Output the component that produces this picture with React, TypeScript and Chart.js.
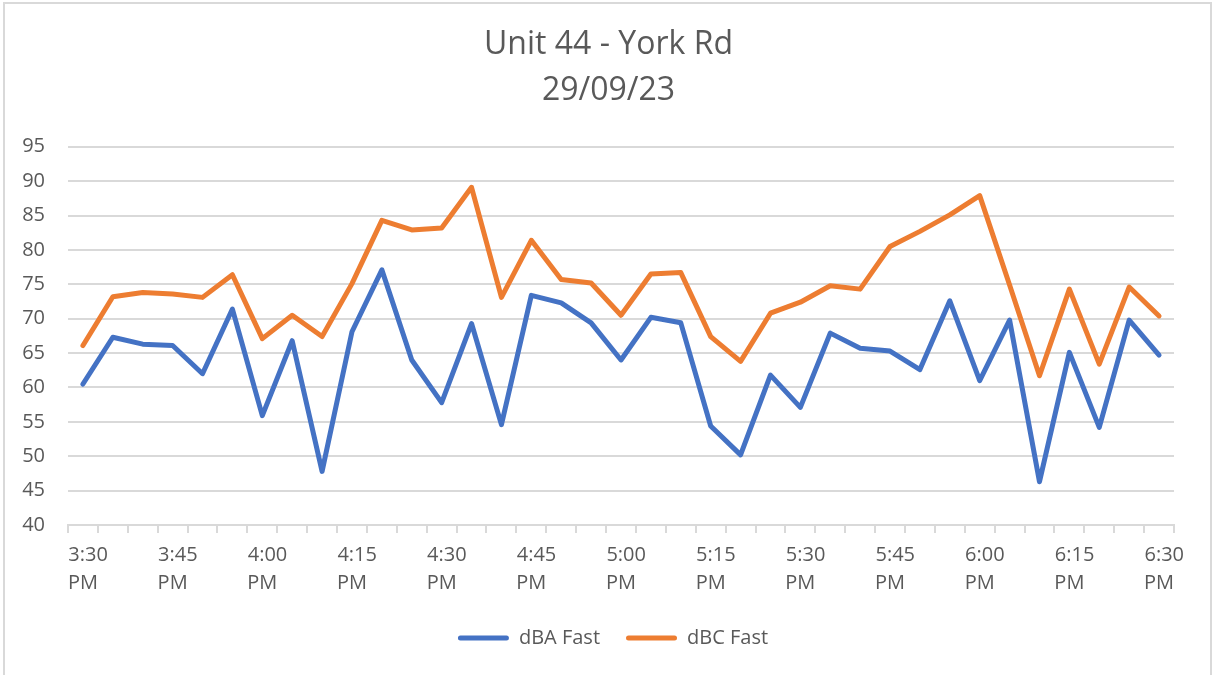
import React, { useEffect, useRef } from "react";
import { Chart, registerables } from "chart.js";

Chart.register(...registerables);

const titleLines = ["Unit 44 - York Rd", "29/09/23"];

const times = [
  "3:30 PM", "3:35 PM", "3:40 PM", "3:45 PM", "3:50 PM", "3:55 PM",
  "4:00 PM", "4:05 PM", "4:10 PM", "4:15 PM", "4:20 PM", "4:25 PM",
  "4:30 PM", "4:35 PM", "4:40 PM", "4:45 PM", "4:50 PM", "4:55 PM",
  "5:00 PM", "5:05 PM", "5:10 PM", "5:15 PM", "5:20 PM", "5:25 PM",
  "5:30 PM", "5:35 PM", "5:40 PM", "5:45 PM", "5:50 PM", "5:55 PM",
  "6:00 PM", "6:05 PM", "6:10 PM", "6:15 PM", "6:20 PM", "6:25 PM",
  "6:30 PM",
];

const dbaFast = [
  60.5, 67.3, 66.3, 66.1, 62.0, 71.4, 55.9, 66.8, 47.8, 68.1, 77.1, 64.0,
  57.8, 69.3, 54.6, 73.4, 72.3, 69.4, 64.0, 70.2, 69.4, 54.4, 50.2, 61.8,
  57.1, 67.9, 65.7, 65.3, 62.6, 72.6, 61.0, 69.8, 46.3, 65.1, 54.2, 69.8,
  64.7,
];

const dbcFast = [
  66.1, 73.2, 73.8, 73.6, 73.1, 76.4, 67.1, 70.5, 67.4, 75.1, 84.3, 82.9,
  83.2, 89.1, 73.1, 81.4, 75.7, 75.2, 70.5, 76.5, 76.7, 67.4, 63.8, 70.8,
  72.4, 74.8, 74.3, 80.5, 82.7, 85.1, 87.9, 74.9, 61.7, 74.3, 63.4, 74.6,
  70.4,
];

const seriesNames = ["dBA Fast", "dBC Fast"];
const seriesColors = ["#4472C4", "#ED7D31"];

const yMin = 40;
const yMax = 95;
const yStep = 5;
const labelEvery = 3;

const TEXT = "#595959";
const GRID = "#D9D9D9";
const FONT = "'Open Sans', 'Liberation Sans', sans-serif";

// shifts the title and legend boxes sideways after layout so they sit like the Excel original
const boxShift = {
  id: "boxShift",
  afterLayout(chart: any) {
    if (chart.titleBlock) {
      chart.titleBlock.left += 11;
      chart.titleBlock.right += 11;
    }
    if (chart.legend) {
      chart.legend.left += 15.5;
      chart.legend.right += 15.5;
    }
  },
};

export default function App() {
  const canvasRef = useRef<HTMLCanvasElement | null>(null);

  useEffect(() => {
    const canvas = canvasRef.current;
    if (!canvas) return;
    Chart.defaults.font.family = FONT;
    Chart.defaults.color = TEXT;

    const chart = new Chart(canvas, {
      type: "line",
      data: {
        labels: times,
        datasets: [dbaFast, dbcFast].map((d, i) => ({
          label: seriesNames[i],
          data: d,
          borderColor: seriesColors[i],
          backgroundColor: seriesColors[i],
          borderWidth: 5,
          pointRadius: 0,
          pointHoverRadius: 0,
          tension: 0,
          borderJoinStyle: "round" as const,
          borderCapStyle: "round" as const,
          fill: false,
        })),
      },
      plugins: [boxShift],
      options: {
        responsive: false,
        animation: false,
        devicePixelRatio: 1,
        layout: { padding: { left: 21, right: 40, top: 0, bottom: 17 } },
        plugins: {
          tooltip: { enabled: false },
          title: {
            display: true,
            text: titleLines,
            color: TEXT,
            font: { family: FONT, size: 32, weight: "normal", lineHeight: 1.434 },
            padding: { top: 22, bottom: 33 },
          },
          legend: {
            display: true,
            position: "bottom",
            labels: {
              color: TEXT,
              font: { family: FONT, size: 20 },
              boxWidth: 51,
              boxHeight: 5,
              padding: 26,
              useBorderRadius: true,
              borderRadius: 2.5,
              generateLabels: (ch: any) =>
                ch.data.datasets.map((ds: any, i: number) => ({
                  text: ds.label,
                  fillStyle: seriesColors[i],
                  strokeStyle: seriesColors[i],
                  lineWidth: 0,
                  fontColor: TEXT,
                  hidden: false,
                  datasetIndex: i,
                  borderRadius: 2.5,
                })),
            },
          },
        },
        scales: {
          x: {
            type: "category",
            offset: true,
            afterFit: (scale: any) => {
              scale.height = 77;
            },
            grid: {
              display: true,
              drawOnChartArea: false,
              drawTicks: true,
              tickLength: 8,
              offset: true,
              color: GRID,
              lineWidth: 2,
            },
            border: { display: true, color: GRID, width: 2 },
            ticks: {
              autoSkip: false,
              maxRotation: 0,
              minRotation: 0,
              padding: 8,
              color: TEXT,
              font: { family: FONT, size: 20, lineHeight: 1.4 },
              callback: (_v: any, index: number) => {
                if (index % labelEvery !== 0) return "";
                const parts = times[index].split(" ");
                return ["  " + parts[0], parts[1]];
              },
            },
          },
          y: {
            min: yMin,
            max: yMax,
            afterFit: (scale: any) => {
              scale.width = 47;
            },
            grid: {
              color: GRID,
              lineWidth: 2,
              drawTicks: false,
            },
            border: { display: false },
            ticks: {
              stepSize: yStep,
              padding: 23,
              color: TEXT,
              font: { family: FONT, size: 20 },
            },
          },
        },
      },
    } as any);

    return () => chart.destroy();
  }, []);

  return (
    <div
      style={{
        position: "absolute",
        left: 0,
        top: 0,
        width: 1214,
        height: 675,
        overflow: "hidden",
        background: "#ffffff",
      }}
    >
      <div
        style={{
          position: "absolute",
          left: 3,
          top: 2,
          width: 1209,
          height: 700,
          border: `2px solid ${GRID}`,
          boxSizing: "border-box",
        }}
      />
      <canvas
        ref={canvasRef}
        width={1214}
        height={675}
        style={{ position: "absolute", left: 0, top: 0, width: 1214, height: 675 }}
      />
    </div>
  );
}
